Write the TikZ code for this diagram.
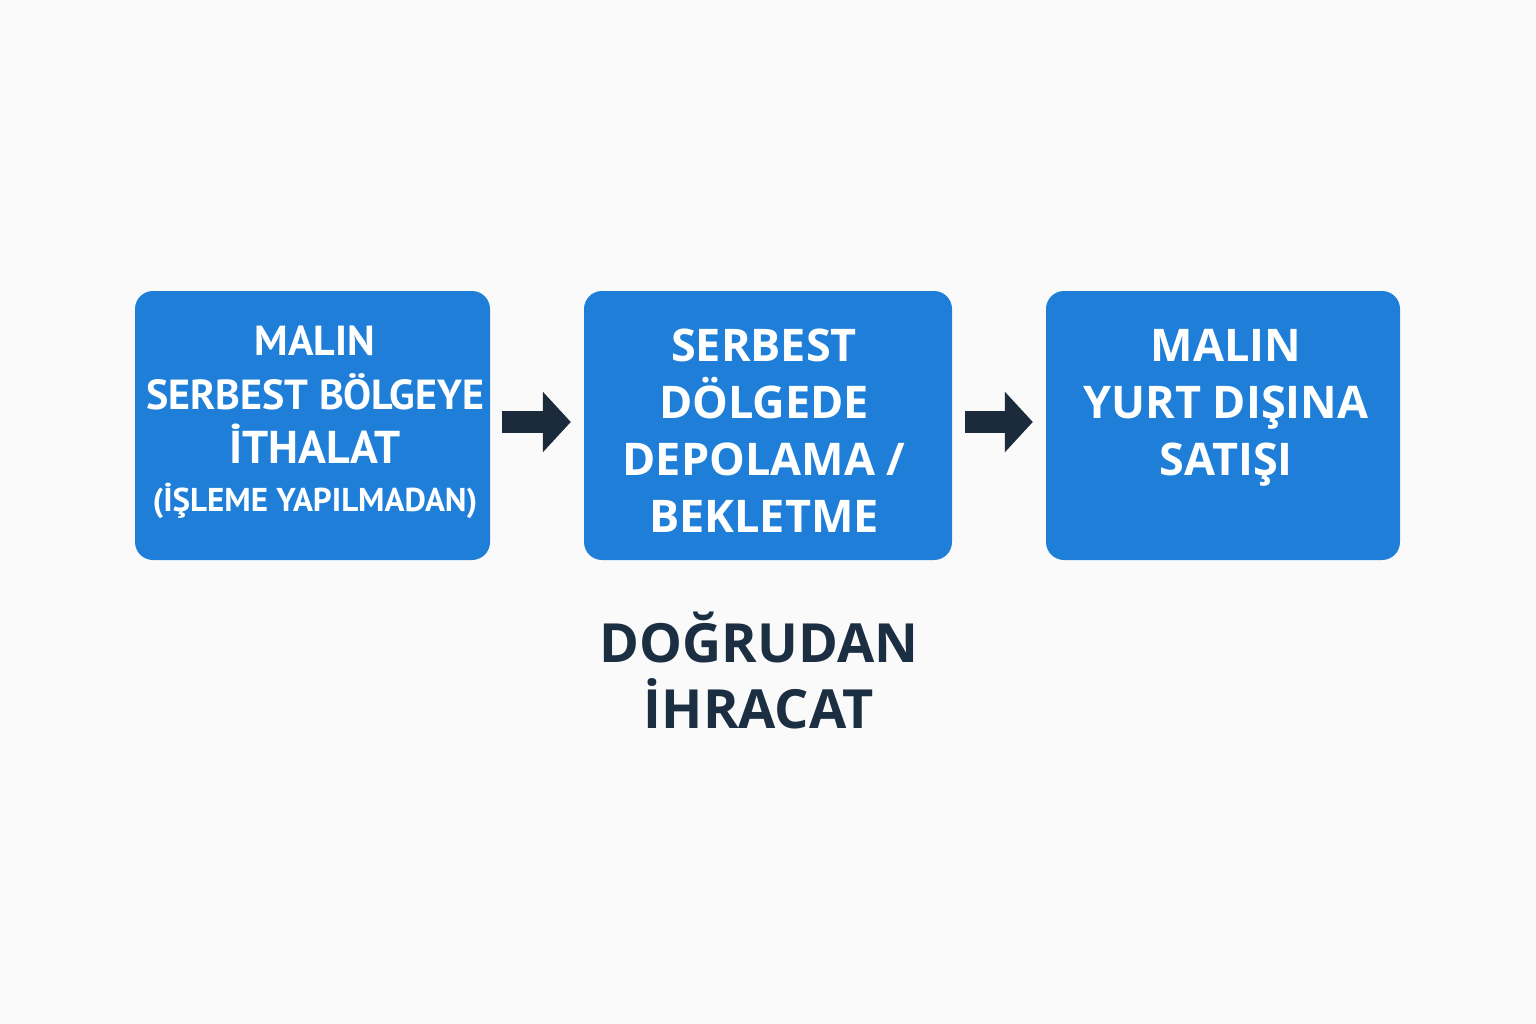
\documentclass[tikz,border=0pt]{standalone}
\usepackage{fontspec}
\setmainfont{Open Sans}
\newfontfamily\condfont{PT Sans}
\usetikzlibrary{arrows.meta}
\definecolor{boxblue}{HTML}{1F7FD8}
\definecolor{arrowdark}{HTML}{1B2B3B}
\definecolor{titledark}{HTML}{1C2E42}
\definecolor{bgcol}{HTML}{FAFAFA}
\tikzset{
  stepbox/.style={fill=boxblue, rounded corners=18pt, minimum height=269pt, inner sep=0pt},
  boxtext/.style={text=white, align=center, inner sep=0pt, font=\bfseries\fontsize{45}{57}\selectfont},
  condtext/.style={text=white, align=center, inner sep=0pt, font=\condfont\bfseries\fontsize{42}{54}\selectfont},
  flowarrow/.style={draw=arrowdark, line width=22pt, -{Triangle[width=59pt,length=28pt]}},
  titletext/.style={text=titledark, align=center, inner sep=0pt, font=\bfseries\fontsize{54}{66}\selectfont}
}
\begin{document}
\begin{tikzpicture}[x=1pt,y=-1pt]
\fill[bgcol] (0,0) rectangle (1536,1024);
\useasboundingbox (0,0) rectangle (1536,1024);
\node[stepbox, minimum width=355pt] (b1) at (312.5,425.5) {};
\node[stepbox, minimum width=368pt] (b2) at (768,425.5) {};
\node[stepbox, minimum width=354pt] (b3) at (1223,425.5) {};
\node[condtext, anchor=base] (t1) at (315,511) {MALIN\\SERBEST BÖLGEYE\\{\fontsize{46}{54}\selectfont İTHALAT}\\[-6pt]{\fontsize{33}{40}\selectfont (İŞLEME YAPILMADAN)}};
\node[boxtext, anchor=base] (t2) at (764,532) {SERBEST\\DÖLGEDE\\DEPOLAMA /\\BEKLETME};
\node[boxtext, anchor=base] (t3) at (1226,475) {MALIN\\YURT DIŞINA\\SATIŞI};
\draw[flowarrow] ([xshift=12pt,yshift=3.5pt]b1.east) -- ([xshift=-13pt,yshift=3.5pt]b2.west);
\draw[flowarrow] ([xshift=13pt,yshift=3.5pt]b2.east) -- ([xshift=-13pt,yshift=3.5pt]b3.west);
\node[titletext, anchor=base] (title) at (759,728) {DOĞRUDAN\\İHRACAT};
\end{tikzpicture}
\end{document}
